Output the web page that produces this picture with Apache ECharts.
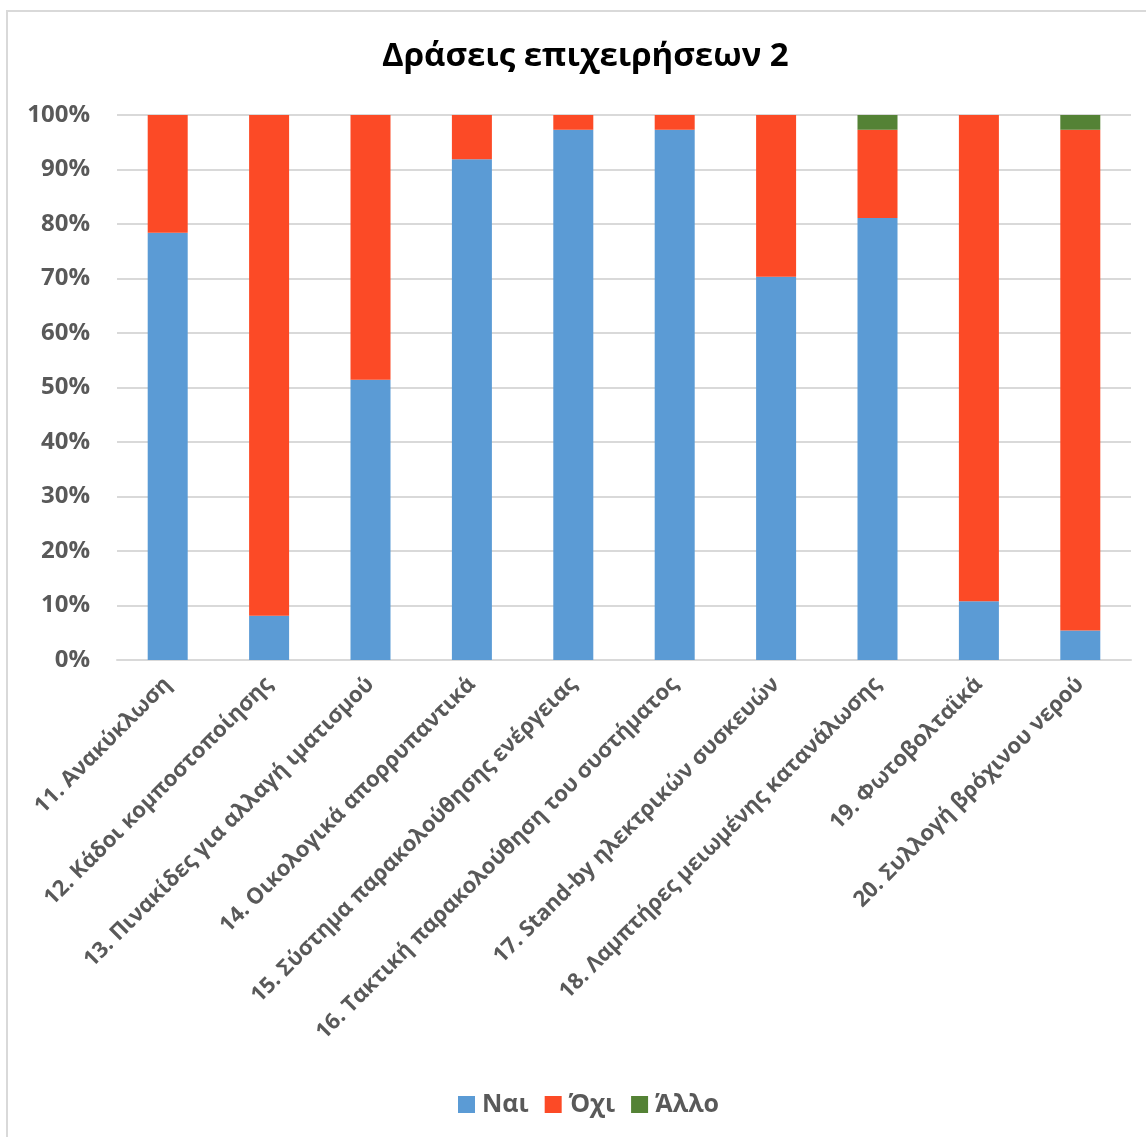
<!DOCTYPE html>
<html>
<head>
<meta charset="utf-8">
<script src="https://cdn.jsdelivr.net/npm/echarts@6/dist/echarts.min.js"></script>
<style>
  html, body { margin: 0; padding: 0; background: #fff; }
  #frame { position: absolute; left: 6px; top: 10px; width: 1140px; height: 1127px; border-left: 2px solid #d9d9d9; border-top: 2px solid #d9d9d9; box-sizing: border-box; }
  #chart { position: absolute; left: 0; top: 0; width: 1146px; height: 1137px; }
</style>
</head>
<body>
<div id="frame"></div>
<div id="chart"></div>
<script>
const categories = [
  '11. Ανακύκλωση',
  '12. Κάδοι κομποστοποίησης',
  '13. Πινακίδες για αλλαγή ιματισμού',
  '14. Οικολογικά απορρυπαντικά',
  '15. Σύστημα παρακολούθησης ενέργειας',
  '16. Τακτική παρακολούθηση του συστήματος',
  '17. Stand-by ηλεκτρικών συσκευών',
  '18. Λαμπτήρες μειωμένης κατανάλωσης',
  '19. Φωτοβολταϊκά',
  '20. Συλλογή βρόχινου νερού'
];
const naiValues  = [78.4, 8.1, 51.4, 91.9, 97.3, 97.3, 70.3, 81.1, 10.8, 5.4];
const ochiValues = [21.6, 91.9, 48.6, 8.1, 2.7, 2.7, 29.7, 16.2, 89.2, 91.9];
const alloValues = [0, 0, 0, 0, 0, 0, 0, 2.7, 0, 2.7];
const seriesNames = ['Ναι', 'Όχι', 'Άλλο'];
const titleText = 'Δράσεις επιχειρήσεων 2';

const FONT = '"Open Sans", "Noto Sans", sans-serif';
const chart = echarts.init(document.getElementById('chart'));
chart.setOption({
  animation: false,
  color: ['#5B9BD5', '#FC4A26', '#548235'],
  title: {
    text: titleText,
    left: 377,
    top: 35,
    textStyle: { fontFamily: FONT, fontSize: 33, fontWeight: 'bold', color: '#000' }
  },
  legend: {
    bottom: 15,
    left: 453,
    itemWidth: 17,
    itemHeight: 17,
    itemGap: 16,
    icon: 'rect',
    textStyle: { fontFamily: FONT, fontSize: 25, fontWeight: 'bold', color: '#595959', padding: [0, 0, 0, 2] },
    data: seriesNames
  },
  grid: { left: 117, right: 15, top: 115, bottom: 477, containLabel: false },
  xAxis: {
    type: 'category',
    data: categories,
    axisLine: { lineStyle: { color: '#d9d9d9', width: 2 } },
    axisTick: { show: false },
    axisLabel: {
      interval: 0, rotate: 45, margin: 21,
      fontFamily: FONT, fontSize: 22, fontWeight: 'bold', color: '#595959'
    }
  },
  yAxis: {
    type: 'value',
    min: 0, max: 100, interval: 10,
    axisLine: { show: false },
    axisTick: { show: false },
    splitLine: { lineStyle: { color: '#d9d9d9', width: 2 } },
    axisLabel: {
      formatter: '{value}%', margin: 27,
      fontFamily: FONT, fontSize: 24, fontWeight: 'bold', color: '#595959'
    }
  },
  series: [
    { name: seriesNames[0], type: 'bar', stack: 'a', barWidth: 40, data: naiValues },
    { name: seriesNames[1], type: 'bar', stack: 'a', barWidth: 40, data: ochiValues },
    { name: seriesNames[2], type: 'bar', stack: 'a', barWidth: 40, data: alloValues }
  ]
});
</script>
</body>
</html>
